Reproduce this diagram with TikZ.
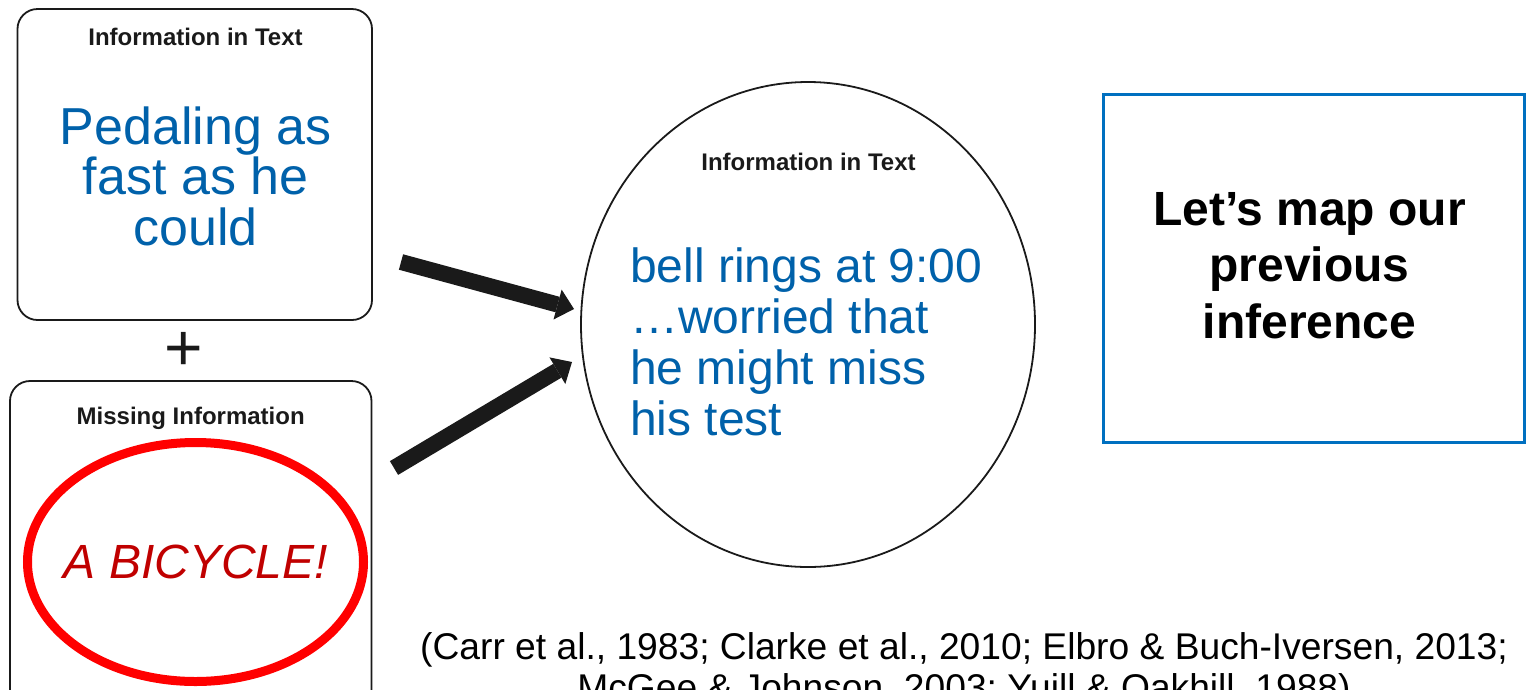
\documentclass[tikz,border=0pt]{standalone}
\usepackage{fontspec}
\setmainfont{Liberation Sans}
\usetikzlibrary{arrows.meta,shapes.geometric}

\definecolor{txtblue}{HTML}{0061AA}
\definecolor{frameblue}{HTML}{0070C0}
\definecolor{bikered}{HTML}{C00000}
\definecolor{ringred}{HTML}{FF0000}
\definecolor{inkblack}{HTML}{1A1A1A}

\tikzset{
  card/.style={draw=inkblack, line width=1.8pt, rounded corners=20pt, inner sep=0pt},
  cardtitle/.style={font=\bfseries\fontsize{24}{26}\selectfont, text=inkblack, inner sep=0pt, anchor=base},
  bigblue/.style={text=txtblue, inner sep=0pt, anchor=base},
  fatarrow/.style={draw=inkblack, line width=16pt,
    -{Triangle[length=17pt,width=31pt,line width=0pt]}},
}

\begin{document}
\begin{tikzpicture}[x=1pt,y=-1pt]
\useasboundingbox (0,0) rectangle (1528,689);

% upper card: text information (multi-line nodes are placed by their last baseline)
\node[card, minimum width=354.5pt, minimum height=311pt] (textcard) at (194.75,164.5) {};
\node[cardtitle] (texttitle) at (195.5,45) {Information in Text};
\node[bigblue, align=center, font=\fontsize{52}{50.5}\selectfont] (textbody) at (195.7,245)
  {Pedaling as\\fast as he\\could};

% plus sign between the cards
\node[inner sep=0pt, anchor=base, text=inkblack, font=\fontsize{66}{70}\selectfont] (plus) at (184,370) {+};

% lower card: missing information
\node[card, minimum width=361.5pt, minimum height=340pt] (misscard) at (190.75,551) {};
\node[cardtitle] (misstitle) at (190.7,424) {Missing Information};
\node[ellipse, draw=ringred, line width=9pt, minimum width=336pt, minimum height=239pt, inner sep=0pt] (ring) at (195.5,562) {};
\node[text=bikered, inner sep=0pt, anchor=base, font=\itshape\fontsize{48}{50}\selectfont] (bike) at (196,578) {A BICYCLE!};

% central ellipse with the inference
\node[ellipse, draw=inkblack, line width=1.8pt, minimum width=454pt, minimum height=485pt, inner sep=0pt] (infer) at (808,324.5) {};
\node[cardtitle] (infertitle) at (808.5,170) {Information in Text};
\node[bigblue, align=left, anchor=base west, font=\fontsize{48}{51}\selectfont] (inferbody) at (630,435)
  {bell rings at 9:00\\…worried that\\he might miss\\his test};

% arrows into the ellipse
\coordinate (arrowAfrom) at (401,262);
\coordinate (arrowAto) at (574,309);
\coordinate (arrowBfrom) at (394,468);
\coordinate (arrowBto) at (572,362);
\draw[fatarrow] (arrowAfrom) -- (arrowAto);
\draw[fatarrow] (arrowBfrom) -- (arrowBto);

% framed prompt on the right
\node[draw=frameblue, line width=3pt, minimum width=421pt, minimum height=348pt, inner sep=0pt] (prompt) at (1314,268.5) {};
\node[inner sep=0pt, anchor=base, align=center, font=\bfseries\fontsize{48}{56.5}\selectfont] (prompttext) at (1309.5,338)
  {Let’s map our\\previous\\inference};

% references
\node[inner sep=0pt, anchor=base, font=\fontsize{37.2}{41}\selectfont] (refsA) at (964,659)
  {(Carr et al., 1983; Clarke et al., 2010; Elbro \& Buch-Iversen, 2013;};
\node[inner sep=0pt, anchor=base, font=\fontsize{37.2}{41}\selectfont] (refsB) at (964,700)
  {McGee \& Johnson, 2003; Yuill \& Oakhill, 1988)};
\end{tikzpicture}
\end{document}
